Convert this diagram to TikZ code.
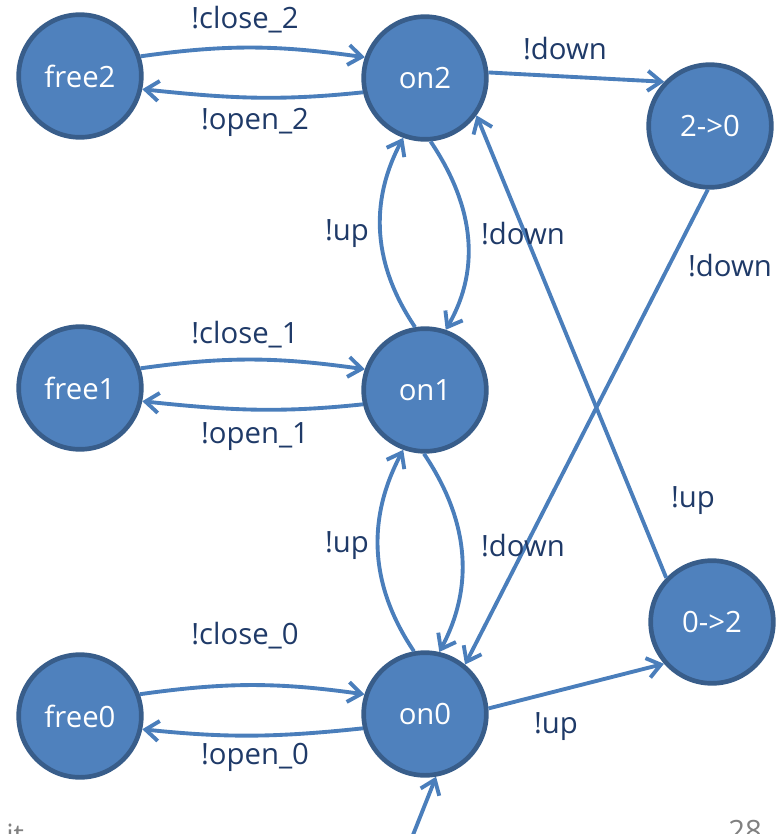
\documentclass[tikz,border=0pt]{standalone}
\usepackage{fontspec}
\setmainfont{Open Sans}
\usetikzlibrary{arrows.meta}
\definecolor{nodefill}{RGB}{79,129,189}
\definecolor{nodeedge}{RGB}{56,93,138}
\definecolor{edgecol}{RGB}{74,126,187}
\definecolor{labcol}{RGB}{31,58,104}
\begin{document}
\begin{tikzpicture}[x=0.75pt,y=-0.75pt,
  state/.style={circle,fill=nodefill,draw=nodeedge,line width=3.5pt,minimum size=92pt,inner sep=0pt,text=white,font=\fontsize{22}{26}\selectfont},
  tr/.style={draw=edgecol,line width=2.9pt,-{Straight Barb[length=10pt,width=15pt,line width=2.9pt]}},
  lab/.style={text=labcol,font=\fontsize{22}{26}\selectfont,inner sep=0pt}]
\useasboundingbox (0,0) rectangle (784,834);
% states
\node[state] (free2) at (80,76) {free2};
\node[state] (on2) at (425,78) {on2};
\node[state] (s20) at (710,126) {2->0};
\node[state] (free1) at (80,388) {free1};
\node[state] (on1) at (425,390) {on1};
\node[state] (free0) at (80,716) {free0};
\node[state] (on0) at (425,714) {on0};
\node[state] (s02) at (712,622) {0->2};
\coordinate (init) at (409,845);
% free/on pairs
\draw[tr] (free2.18) to[out=8,in=172] (on2.161);
\draw[tr] (on2.193) to[out=-174,in=-6] (free2.-12);
\draw[tr] (free1.18) to[out=8,in=172] (on1.161);
\draw[tr] (on1.193) to[out=-174,in=-6] (free1.-12);
\draw[tr] (free0.20) to[out=8,in=172] (on0.162);
\draw[tr] (on0.193) to[out=-174,in=-6] (free0.-12);
% vertical up/down
\draw[tr] (on1.99) to[out=124,in=-118] (on2.-110);
\draw[tr] (on2.-85) to[out=-56,in=60] (on1.71);
\draw[tr] (on0.100) to[out=124,in=-118] (on1.-110);
\draw[tr] (on1.-91) to[out=-56,in=62] (on0.77);
% diagonal
\draw[tr] (on2.5) -- (s20.136);
\draw[tr] (s20.-92) -- (on0.51);
\draw[tr] (s02.136) -- (on2.-36);
\draw[tr] (on0.5) -- (s02.-139);
\draw[tr] (init) -- (on0.-80);
% labels
\node[lab] at (245,20) {!close\_2};
\node[lab] at (255,122) {!open\_2};
\node[lab] at (565,49) {!down};
\node[lab] at (347,234) {!up};
\node[lab] at (523,234) {!down};
\node[lab] at (730,266) {!down};
\node[lab] at (245,335) {!close\_1};
\node[lab] at (255,437) {!open\_1};
\node[lab] at (693,501) {!up};
\node[lab] at (347,546) {!up};
\node[lab] at (523,546) {!down};
\node[lab] at (245,636) {!close\_0};
\node[lab] at (255,757) {!open\_0};
\node[lab] at (556,727) {!up};
\node[text=gray,font=\fontsize{22}{26}\selectfont,anchor=north west,inner sep=0pt] at (728,820) {28};
\node[text=gray,font=\fontsize{22}{26}\selectfont,anchor=north west,inner sep=0pt] at (6,824) {it};
\end{tikzpicture}
\end{document}
